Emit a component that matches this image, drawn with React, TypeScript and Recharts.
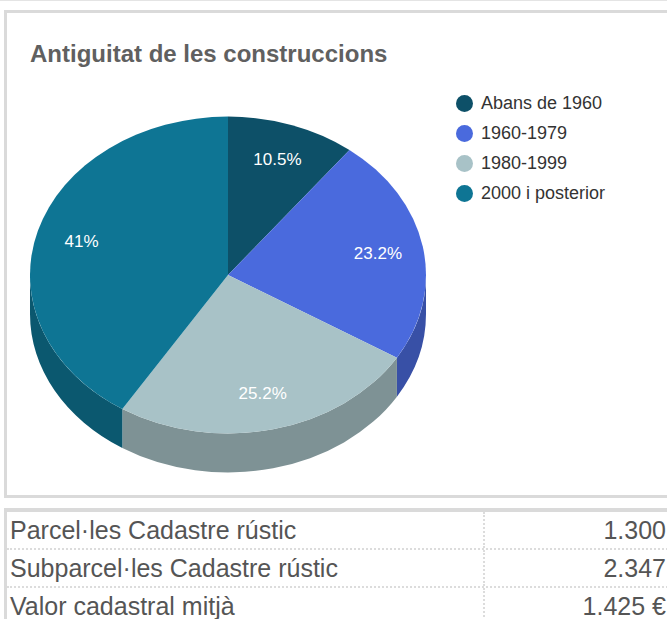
import React from 'react';
import { PieChart, Pie, Cell, Legend } from 'recharts';

const chartTitle = 'Antiguitat de les construccions';
const categories = ['Abans de 1960', '1960-1979', '1980-1999', '2000 i posterior'];
const shares = [10.5, 23.2, 25.2, 41];
const colors = ['#0d5068', '#4a6add', '#a8c2c7', '#0e7594'];
const tableLabels = ['Parcel·les Cadastre rústic', 'Subparcel·les Cadastre rústic', 'Valor cadastral mitjà'];
const tableValues = ['1.300', '2.347', '1.425 €'];

const pieData = categories.map((name, i) => ({ name, value: shares[i] }));

const FONT = '"Liberation Sans", Arial, Helvetica, sans-serif';
const RY_RATIO = 0.8;
const DEPTH = 39;
const LABEL_FRAC = 0.77;
const RAD = Math.PI / 180;

function darken(hex: string, f: number): string {
  const n = parseInt(hex.slice(1), 16);
  const r = Math.round(((n >> 16) & 255) * f);
  const g = Math.round(((n >> 8) & 255) * f);
  const b = Math.round((n & 255) * f);
  return `rgb(${r},${g},${b})`;
}

function pt(cx: number, cy: number, rx: number, ry: number, a: number): [number, number] {
  return [cx + rx * Math.cos(a * RAD), cy - ry * Math.sin(a * RAD)];
}

function Slice3D(props: any) {
  const { cx, cy, outerRadius, startAngle, endAngle, fill } = props;
  const rx = outerRadius;
  const ry = outerRadius * RY_RATIO;
  const hi = Math.max(startAngle, endAngle);
  const lo = Math.min(startAngle, endAngle);
  const a1 = Math.min(hi, 0);
  const a2 = Math.max(lo, -180);
  let side: React.ReactNode = null;
  if (a1 > a2) {
    const p1 = pt(cx, cy, rx, ry, a1);
    const p2 = pt(cx, cy, rx, ry, a2);
    const d = `M${p1[0]},${p1[1]} A${rx},${ry} 0 0 1 ${p2[0]},${p2[1]} L${p2[0]},${p2[1] + DEPTH} A${rx},${ry} 0 0 0 ${p1[0]},${p1[1] + DEPTH} Z`;
    side = <path d={d} fill={darken(fill, 0.75)} stroke="none" />;
  }
  const s = pt(cx, cy, rx, ry, hi);
  const e = pt(cx, cy, rx, ry, lo);
  const large = hi - lo > 180 ? 1 : 0;
  const top = `M${cx},${cy} L${s[0]},${s[1]} A${rx},${ry} 0 ${large} 1 ${e[0]},${e[1]} Z`;
  return (
    <g>
      {side}
      <path d={top} fill={fill} stroke="none" />
    </g>
  );
}

function renderLabel(props: any) {
  const { cx, cy, outerRadius, midAngle, value } = props;
  const rx = outerRadius * LABEL_FRAC;
  const ry = outerRadius * RY_RATIO * LABEL_FRAC;
  const [x, y] = pt(cx, cy, rx, ry, midAngle);
  return (
    <text x={x} y={y} fill="#ffffff" fontSize={17} fontFamily={FONT} textAnchor="middle" dominantBaseline="central">
      {`${value}%`}
    </text>
  );
}

function renderLegend(props: any) {
  const items = [...(props.payload || [])].sort(
    (a: any, b: any) => categories.indexOf(a.value) - categories.indexOf(b.value)
  );
  return (
    <div style={{ fontFamily: FONT }}>
      {items.map((entry: any, i: number) => (
        <div key={i} style={{ display: 'flex', alignItems: 'center', height: 30 }}>
          <span
            style={{
              display: 'inline-block',
              width: 17,
              height: 17,
              borderRadius: '50%',
              background: entry.color,
              marginRight: 8,
            }}
          />
          <span style={{ fontSize: 18, color: '#333333', lineHeight: '30px' }}>{entry.value}</span>
        </div>
      ))}
    </div>
  );
}

export default function App() {
  return (
    <div style={{ position: 'absolute', left: 0, top: 0, width: 667, height: 619, overflow: 'hidden', background: '#ffffff', fontFamily: FONT }}>
      <div style={{ position: 'absolute', left: 0, top: 0, width: 667, height: 1, background: '#e4e4e4' }} />
      <div
        style={{
          position: 'absolute',
          left: 4,
          top: 10,
          width: 720,
          height: 488,
          boxSizing: 'border-box',
          border: '3px solid #dadada',
        }}
      />
      <div
        style={{
          position: 'absolute',
          left: 30,
          top: 42,
          fontSize: 24,
          lineHeight: '24px',
          fontWeight: 'bold',
          color: '#606060',
          whiteSpace: 'nowrap',
        }}
      >
        {chartTitle}
      </div>
      <div style={{ position: 'absolute', left: 0, top: 0 }}>
        <PieChart width={667} height={495} margin={{ top: 0, right: 0, bottom: 0, left: 0 }}>
          <Pie
            data={pieData}
            dataKey="value"
            nameKey="name"
            cx={228}
            cy={275}
            outerRadius={198}
            startAngle={90}
            endAngle={-270}
            stroke="none"
            shape={Slice3D}
            label={renderLabel}
            labelLine={false}
            isAnimationActive={false}
          >
            {pieData.map((_, i) => (
              <Cell key={i} fill={colors[i]} />
            ))}
          </Pie>
          <Legend
            layout="vertical"
            align="right"
            verticalAlign="top"
            content={renderLegend}
            wrapperStyle={{ left: 456, top: 88, width: 200 }}
          />
        </PieChart>
      </div>
      <div
        style={{
          position: 'absolute',
          left: 4,
          top: 508,
          width: 720,
          height: 200,
          boxSizing: 'border-box',
          borderTop: '4px solid #dadada',
          borderLeft: '3px solid #dadada',
        }}
      >
        {tableLabels.map((label, i) => (
          <div key={i} style={{ display: 'flex', height: 38, boxSizing: 'border-box', borderBottom: '2px dotted #dcdcdc' }}>
            <div
              style={{
                width: 478,
                boxSizing: 'border-box',
                borderRight: '2px dotted #dcdcdc',
                paddingLeft: 3,
                fontSize: 25,
                lineHeight: '36px',
                color: '#555555',
                whiteSpace: 'nowrap',
              }}
            >
              {label}
            </div>
            <div
              style={{
                width: 182,
                boxSizing: 'border-box',
                paddingRight: 1,
                textAlign: 'right',
                fontSize: 25,
                lineHeight: '36px',
                color: '#555555',
                whiteSpace: 'nowrap',
              }}
            >
              {tableValues[i]}
            </div>
          </div>
        ))}
      </div>
    </div>
  );
}
